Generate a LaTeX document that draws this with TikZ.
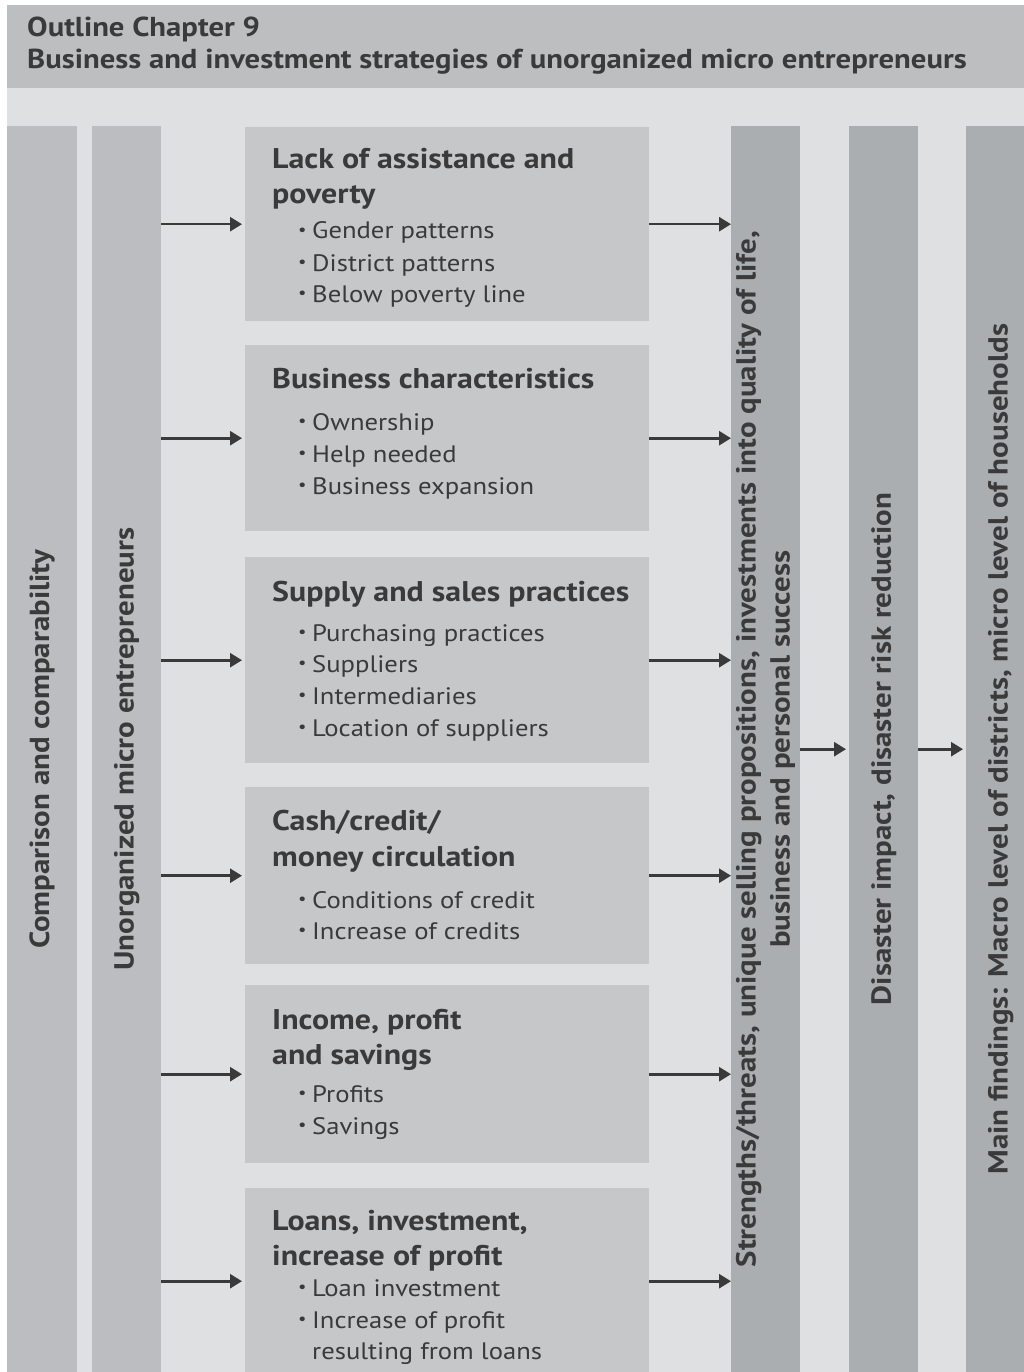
\documentclass[tikz,border=0pt]{standalone}
\usepackage{fontspec}
\setmainfont[FakeStretch=1.12]{PT Sans}
\usepackage{graphicx}
\usetikzlibrary{arrows.meta}
\definecolor{hdrc}{HTML}{BDBEC0}
\definecolor{bodyc}{HTML}{DFE0E2}
\definecolor{lcolc}{HTML}{BCBDC0}
\definecolor{rcolc}{HTML}{ABAEB1}
\definecolor{boxc}{HTML}{C6C7C9}
\definecolor{ink}{HTML}{3A3A3A}
\newcommand\bul{\makebox[14pt][l]{\raisebox{0.15em}{\scalebox{0.7}{•}}}}
\begin{document}
\begin{tikzpicture}[x=1pt,y=-1pt,
  colL/.style={fill=lcolc, minimum height=1246pt, inner sep=0, anchor=north west, text=ink,
    font=\bfseries\fontsize{27.6}{34}\selectfont},
  colR/.style={colL, fill=rcolc},
  boxn/.style={fill=boxc, minimum width=404pt, inner sep=0, anchor=north west},
  txt/.style={anchor=base west, inner sep=0, text=ink},
  ttl/.style={txt, font=\bfseries\fontsize{28.5}{32}\selectfont},
  itm/.style={txt, font=\fontsize{23.8}{28}\selectfont},
  hd/.style={txt, font=\bfseries\fontsize{27.4}{30}\selectfont},
  arr/.style={draw=ink, line width=2.6pt, -{Triangle[length=12pt,width=14pt]}}
]
\useasboundingbox (0,0) rectangle (1024,1372);
\clip (0,0) rectangle (1024,1372);
\fill[white] (0,0) rectangle (1024,1372);
\node[fill=hdrc, inner sep=0, minimum width=1017pt, minimum height=83pt, anchor=north west] (hdr) at (7,5) {};
\node[fill=bodyc, inner sep=0, minimum width=1017pt, minimum height=1284pt, anchor=north west] (body) at (7,88) {};
\node[hd] (h1) at (27,37) {Outline Chapter 9};
\node[hd] (h2) at (27,69) {Business and investment strategies of unorganized micro entrepreneurs};

% columns
\node[colL, minimum width=70pt] (c1) at (7,126) {\rotatebox{90}{Comparison and comparability}};
\node[colL, minimum width=69pt] (c2) at (92,126) {\rotatebox{90}{Unorganized micro entrepreneurs}};
\node[colR, minimum width=69pt] (c4) at (731,126) {\rotatebox{90}{\begin{tabular}{@{}c@{}}Strengths/threats, unique selling propositions, investments into quality of life,\\ business and personal success\end{tabular}}};
\node[colR, minimum width=69pt] (c5) at (849,126) {\rotatebox{90}{Disaster impact, disaster risk reduction}};
\node[colR, minimum width=69pt] (c6) at (966,126) {\rotatebox{90}{Main findings: Macro level of districts, micro level of households}};

% boxes
\node[boxn, minimum height=194pt] (b1) at (245,127) {};
\node[boxn, minimum height=186pt] (b2) at (245,345) {};
\node[boxn, minimum height=206pt] (b3) at (245,557) {};
\node[boxn, minimum height=177pt] (b4) at (245,787) {};
\node[boxn, minimum height=178pt] (b5) at (245,985) {};
\node[boxn, minimum height=186pt] (b6) at (245,1188) {};

% box 1
\node[ttl] (t1a) at (272,169) {Lack of assistance and};
\node[ttl] (t1b) at (272,204) {poverty};
\node[itm] (i1a) at (298,239) {\bul Gender patterns};
\node[itm] (i1b) at (298,271) {\bul District patterns};
\node[itm] (i1c) at (298,302) {\bul Below poverty line};
% box 2
\node[ttl] (t2a) at (272,388) {Business characteristics};
\node[itm] (i2a) at (298,430) {\bul Ownership};
\node[itm] (i2b) at (298,462) {\bul Help needed};
\node[itm] (i2c) at (298,494) {\bul Business expansion};
% box 3
\node[ttl] (t3a) at (272,601) {Supply and sales practices};
\node[itm] (i3a) at (298,641) {\bul Purchasing practices};
\node[itm] (i3b) at (298,672) {\bul Suppliers};
\node[itm] (i3c) at (298,704) {\bul Intermediaries};
\node[itm] (i3d) at (298,736) {\bul Location of suppliers};
% box 4
\node[ttl] (t4a) at (272,830) {Cash/credit/};
\node[ttl] (t4b) at (272,866) {money circulation};
\node[itm] (i4a) at (298,908) {\bul Conditions of credit};
\node[itm] (i4b) at (298,939) {\bul Increase of credits};
% box 5
\node[ttl] (t5a) at (272,1029) {Income, profit};
\node[ttl] (t5b) at (272,1064) {and savings};
\node[itm] (i5a) at (298,1102) {\bul Profits};
\node[itm] (i5b) at (298,1134) {\bul Savings};
% box 6
\node[ttl] (t6a) at (272,1230) {Loans, investment,};
\node[ttl] (t6b) at (272,1265) {increase of profit};
\node[itm] (i6a) at (298,1296) {\bul Loan investment};
\node[itm] (i6b) at (298,1328) {\bul Increase of profit};
\node[itm] (i6c) at (298,1359) {\hspace*{14pt}resulting from loans};

% arrows
\foreach \b in {b1,b2,b3,b4,b5,b6}{
  \draw[arr, shorten >=3pt] (c2.east |- \b.west) -- (\b.west);
  \draw[arr] (\b.east) -- (\b.east -| c4.west);
}
\draw[arr, shorten >=3pt] (c4.east) -- (c5.west);
\draw[arr, shorten >=3pt] (c5.east) -- (c6.west);
\end{tikzpicture}
\end{document}
